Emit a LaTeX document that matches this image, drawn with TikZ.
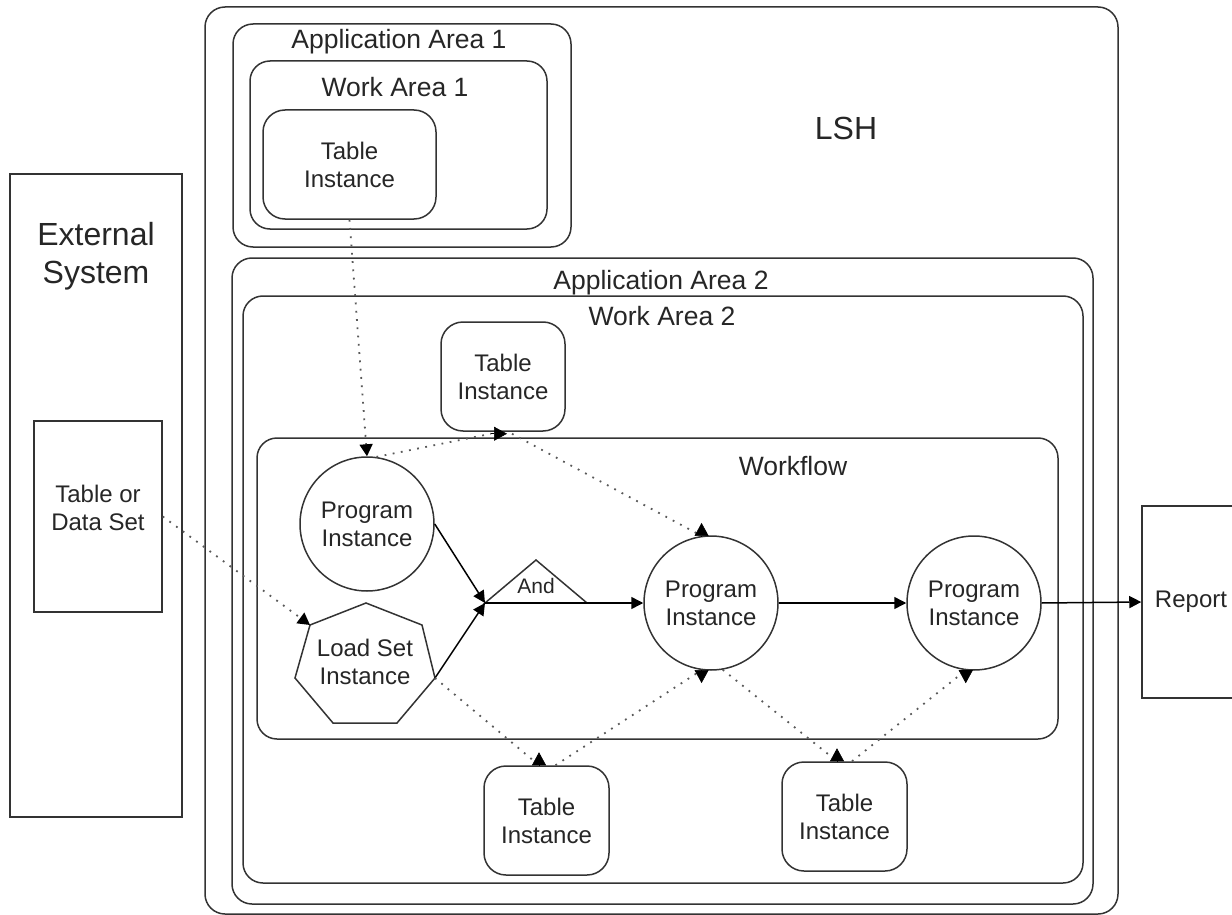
\documentclass[tikz,border=0pt]{standalone}
\usepackage{fontspec}
\setmainfont{Liberation Sans}
\usetikzlibrary{arrows.meta,calc}
\begin{document}
\begin{tikzpicture}[x=1pt,y=-1pt,
  cont/.style={draw=black!80, line width=1.5pt, rounded corners=20pt, inner sep=0pt},
  tbl/.style={draw=black!80, line width=1.5pt, rounded corners=22pt, inner sep=0pt,
    minimum width=125pt, minimum height=109pt, align=center, text=black!85,
    font=\fontsize{24}{28}\selectfont},
  sq/.style={draw=black!80, line width=1.5pt, inner sep=0pt},
  prog/.style={draw=black!80, line width=1.5pt, circle, minimum size=134pt, inner sep=0pt,
    align=center, text=black!85, font=\fontsize{24}{28}\selectfont},
  lbl/.style={text=black!85, inner sep=0pt},
  f24/.style={font=\fontsize{24}{28}\selectfont},
  f26/.style={font=\fontsize{26.5}{31}\selectfont},
  f32/.style={font=\fontsize{32}{38}\selectfont},
  shp/.style={draw=black!80, line width=1.5pt, line join=miter},
  solidarrow/.style={draw=black, line width=1.5pt, -{Triangle[length=12pt,width=12pt]}},
  dotline/.style={draw=black!65, line width=1.8pt, dash pattern=on 1.8pt off 6.5pt},
  dotarrow/.style={dotline, -{Triangle[length=12pt,width=13pt,color=black]}},
  tipline/.style={draw=black, line width=0.6pt, -{Triangle[length=13pt,width=14pt]}}
]
\useasboundingbox (0,0) rectangle (1232,915);
\clip (0,0) rectangle (1232,915);

% containers
\node[cont, minimum width=913pt, minimum height=907pt] (lsh) at (661.5,460.5) {};
\node[lbl, f32, anchor=base] (lshl) at (846,140) {LSH};

\node[cont, minimum width=338pt, minimum height=223pt] (aa1) at (402,135.5) {};
\node[lbl, f26, anchor=base] (aa1l) at (399,49) {Application Area 1};
\node[cont, minimum width=297pt, minimum height=168pt] (wa1) at (398.5,145) {};
\node[lbl, f26, anchor=base] (wa1l) at (395,97) {Work Area 1};
\node[tbl, minimum width=173pt] (t1) at (349.5,164.5) {Table\\Instance};

\node[sq, minimum width=172pt, minimum height=643pt] (ext) at (96,495.5) {};
\node[lbl, f32, align=center] (extl) at (96,256) {External\\System};
\node[sq, minimum width=128pt, minimum height=191pt] (tds) at (98,516.5) {};
\node[lbl, f24, align=center] (tdsl) at (98,508) {Table or\\Data Set};

\node[cont, minimum width=861pt, minimum height=646pt] (aa2) at (662.5,581) {};
\node[lbl, f26, anchor=base] (aa2l) at (661,289) {Application Area 2};
\node[cont, minimum width=840pt, minimum height=587pt] (wa2) at (663,589.5) {};
\node[lbl, f26, anchor=base] (wa2l) at (662,325) {Work Area 2};
\node[tbl, minimum width=124pt] (t2) at (503,376.5) {Table\\Instance};

\node[cont, minimum width=801pt, minimum height=301pt] (wf) at (657.5,588.5) {};
\node[lbl, f26, anchor=base] (wfl) at (793,475) {Workflow};

% workflow content
\node[prog] (c1) at (367,524) {Program\\Instance};
\node[prog] (c2) at (711,603) {Program\\Instance};
\node[prog] (c3) at (974,603) {Program\\Instance};

\coordinate (h1) at (366,603);
\coordinate (h2) at (422,625);
\coordinate (h3) at (435,678);
\coordinate (h4) at (397,723);
\coordinate (h5) at (333,723);
\coordinate (h6) at (295,678);
\coordinate (h7) at (310,625);
\draw[shp] (h1) -- (h2) -- (h3) -- (h4) -- (h5) -- (h6) -- (h7) -- cycle;
\node[lbl, f24, align=center] (ls) at (365,662) {Load Set\\Instance};

\coordinate (and1) at (485,603);
\coordinate (and2) at (536,560);
\coordinate (and3) at (587,603);
\draw[shp] (and1) -- (and2) -- (and3) -- cycle;
\node[lbl, font=\fontsize{21}{25}\selectfont, anchor=base] (andl) at (536,593) {And};

\node[sq, minimum width=98pt, minimum height=192pt, f24, text=black!85] (report) at (1191,602) {Report};

\node[tbl] (t4) at (546.5,820.5) {Table\\Instance};
\node[tbl] (t5) at (844.5,816.5) {Table\\Instance};

% solid connectors
\draw[solidarrow] (c1.east) -- (and1);
\draw[solidarrow] (h3) -- (and1);
\draw[solidarrow] (and1) -- (c2.west);
\draw[solidarrow] (c2.east) -- (c3.west);
\draw[solidarrow] (c3.east) -- (report.west);

% dotted connectors
\draw[dotarrow] (t1.south) -- (c1.north);
\draw[dotarrow] (tds.east) -- (h7);

\coordinate (t2a) at ($(t2.south)+(-12,2)$);
\coordinate (t2b) at ($(t2.south)+(9,2)$);
\draw[dotline] (c1.82) -- (t2a);
\draw[tipline] (t2a) -- ++(16,0);
\draw[dotline] (t2b) -- (c2.98);
\draw[tipline] (c2.98) -- ++(0,-13);

\coordinate (t4a) at ($(t4.north)+(-7.5,0)$);
\coordinate (t4b) at ($(t4.north)+(9,0)$);
\draw[dotline] (h3) -- (t4a);
\draw[tipline] (t4a) -- ++(0,-13);
\draw[dotline] (t4b) -- (c2.262);
\draw[tipline] (c2.262) -- ++(0,13);

\coordinate (t5a) at ($(t5.north)+(-7.5,0)$);
\coordinate (t5b) at ($(t5.north)+(7.5,0)$);
\draw[dotline] (c2.280) -- (t5a);
\draw[tipline] (t5a) -- ++(0,-13);
\draw[dotline] (t5b) -- (c3.263);
\draw[tipline] (c3.263) -- ++(0,13);
\end{tikzpicture}
\end{document}
